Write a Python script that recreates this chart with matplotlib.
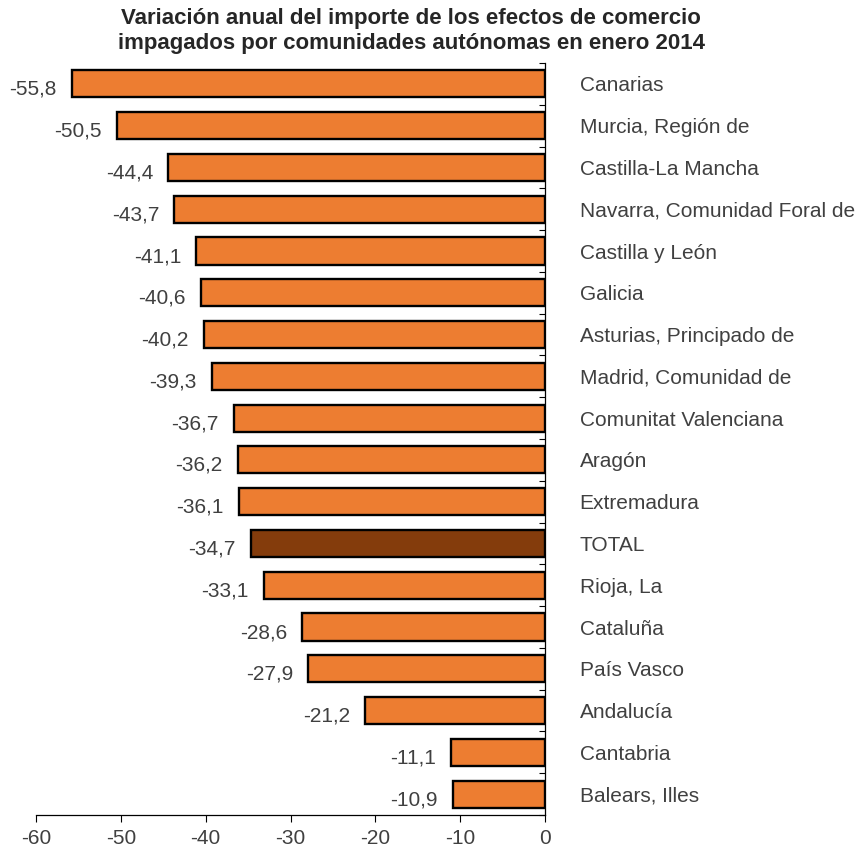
import matplotlib.pyplot as plt
import numpy as np

plt.rcParams['font.family'] = ['Liberation Sans', 'DejaVu Sans']

regions = ["Canarias", "Murcia, Región de", "Castilla-La Mancha",
           "Navarra, Comunidad Foral de", "Castilla y León", "Galicia",
           "Asturias, Principado de", "Madrid, Comunidad de",
           "Comunitat Valenciana", "Aragón", "Extremadura", "TOTAL",
           "Rioja, La", "Cataluña", "País Vasco", "Andalucía", "Cantabria",
           "Balears, Illes"]
values = [-55.8, -50.5, -44.4, -43.7, -41.1, -40.6, -40.2, -39.3, -36.7,
          -36.2, -36.1, -34.7, -33.1, -28.6, -27.9, -21.2, -11.1, -10.9]
xticks = [-60, -50, -40, -30, -20, -10, 0]

text_col = "#404040"
colors = ["#843C0C" if r == "TOTAL" else "#ED7D31" for r in regions]

fig = plt.figure(figsize=(8.62, 8.49), dpi=100)
ax = fig.add_axes([36 / 862, 1 - 815 / 849, (545 - 36) / 862, (815 - 63) / 849])

y = np.arange(len(regions))
ax.barh(y, values, height=0.65, color=colors, edgecolor="black", linewidth=1.7)
ax.set_ylim(len(regions) - 0.5, -0.5)
ax.set_xlim(-60, 0)

for yi, v in zip(y, values):
    ax.annotate(f"{v:.1f}".replace(".", ","), (v, yi), xytext=(-11, -4),
                textcoords="offset points", ha="right", va="center",
                fontsize=15, color=text_col)

ax.yaxis.tick_right()
ax.set_yticks(y)
ax.set_yticklabels(regions, fontsize=15, color=text_col)
ax.tick_params(axis="y", length=0, pad=25)
ax.set_yticks(np.arange(-0.5, len(regions), 1.0), minor=True)
ax.tick_params(axis="y", which="minor", direction="in", length=4, width=0.8,
               left=False, right=True)

ax.set_xticks(xticks)
ax.set_xticklabels([str(t) for t in xticks], fontsize=15, color=text_col)
ax.tick_params(axis="x", direction="out", length=5, width=0.8, pad=5)

ax.spines["top"].set_visible(False)
ax.spines["left"].set_visible(False)
ax.spines["right"].set_linewidth(0.9)
ax.spines["bottom"].set_linewidth(0.9)

fig.text(0.477, 1 - 31 / 849, "Variación anual del importe de los efectos de comercio\n"
         "impagados por comunidades autónomas en enero 2014",
         ha="center", va="center", fontsize=16, fontweight="bold",
         color="#262626", linespacing=1.3)

fig.savefig("out.png", dpi=100)
